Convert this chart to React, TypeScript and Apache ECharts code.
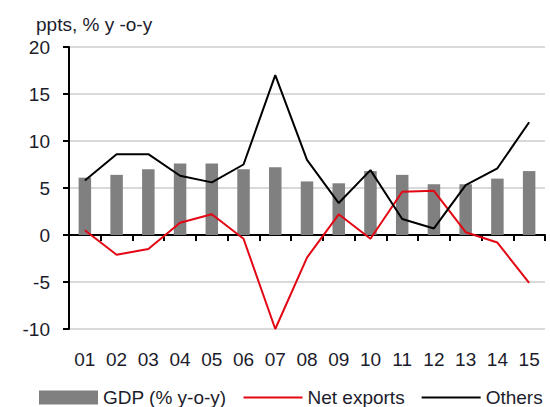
import React, { useEffect, useRef } from "react";
import * as echarts from "echarts";

const categories = ["01", "02", "03", "04", "05", "06", "07", "08", "09", "10", "11", "12", "13", "14", "15"];
const gdp = [6.1, 6.4, 7.0, 7.6, 7.6, 7.0, 7.2, 5.7, 5.5, 6.8, 6.4, 5.4, 5.4, 6.0, 6.8];
const netExports = [0.5, -2.1, -1.5, 1.3, 2.2, -0.4, -10.0, -2.4, 2.2, -0.4, 4.6, 4.7, 0.3, -0.8, -5.1];
const others = [5.8, 8.6, 8.6, 6.3, 5.6, 7.5, 17.0, 8.0, 3.4, 6.9, 1.7, 0.7, 5.3, 7.1, 12.0];
const yTicks = { min: -10, max: 20, interval: 5 };

const TEXT = "#1c1c2c";
const FONT = "Liberation Sans, Arial, sans-serif";

export default function App() {
  const ref = useRef<HTMLDivElement>(null);
  useEffect(() => {
    if (!ref.current) return;
    const chart = echarts.init(ref.current, undefined, { renderer: "svg" });
    chart.setOption({
      animation: false,
      textStyle: { fontFamily: FONT, color: TEXT },
      title: {
        text: "ppts, % y -o-y",
        left: 31,
        top: 10,
        textStyle: { fontSize: 19, fontWeight: "normal", color: TEXT, fontFamily: FONT },
      },
      legend: {
        left: 34,
        top: 383,
        width: 530,
        itemWidth: 59,
        itemHeight: 14,
        itemGap: 16,
        textStyle: { fontSize: 19, color: TEXT, fontFamily: FONT },
        data: [
          { name: "GDP (% y-o-y)", icon: "rect" },
          { name: "Net exports", itemStyle: { opacity: 0 } },
          { name: "Others", itemStyle: { opacity: 0 } },
        ],
      },
      grid: { left: 69, right: 5, top: 47, bottom: 78, containLabel: false },
      xAxis: [
        {
          type: "category",
          data: categories,
          position: "bottom",
          axisLine: { show: false, onZero: false },
          axisTick: { show: false },
          axisLabel: { fontSize: 19, color: TEXT, margin: 21, fontFamily: FONT },
        },
        {
          type: "category",
          data: categories,
          position: "top",
          axisLine: { show: true, onZero: true, lineStyle: { color: "#000", width: 2 } },
          axisTick: { show: true, inside: true, length: 6, lineStyle: { color: "#000", width: 2 } },
          axisLabel: { show: false },
        },
      ],
      yAxis: {
        type: "value",
        min: yTicks.min,
        max: yTicks.max,
        interval: yTicks.interval,
        axisLine: { show: true, lineStyle: { color: "#000", width: 2 } },
        axisTick: { show: true, length: 6, lineStyle: { color: "#000", width: 2 } },
        axisLabel: { fontSize: 19, color: TEXT, margin: 19, fontFamily: FONT },
        splitLine: { show: true, lineStyle: { color: "#d9d9d9", width: 2 } },
      },
      series: [
        {
          name: "GDP (% y-o-y)",
          type: "bar",
          data: gdp,
          barWidth: 12.5,
          itemStyle: { color: "#808080" },
          xAxisIndex: 0,
        },
        {
          name: "Net exports",
          type: "line",
          data: netExports,
          symbol: "none",
          lineStyle: { color: "#e30613", width: 2 },
          itemStyle: { color: "#e30613" },
          xAxisIndex: 0,
          z: 3,
        },
        {
          name: "Others",
          type: "line",
          data: others,
          symbol: "none",
          lineStyle: { color: "#000000", width: 2 },
          itemStyle: { color: "#000000" },
          xAxisIndex: 0,
          z: 4,
        },
      ],
    });
    return () => chart.dispose();
  }, []);
  return <div ref={ref} style={{ width: 550, height: 407, position: "absolute", left: 0, top: 0 }} />;
}
